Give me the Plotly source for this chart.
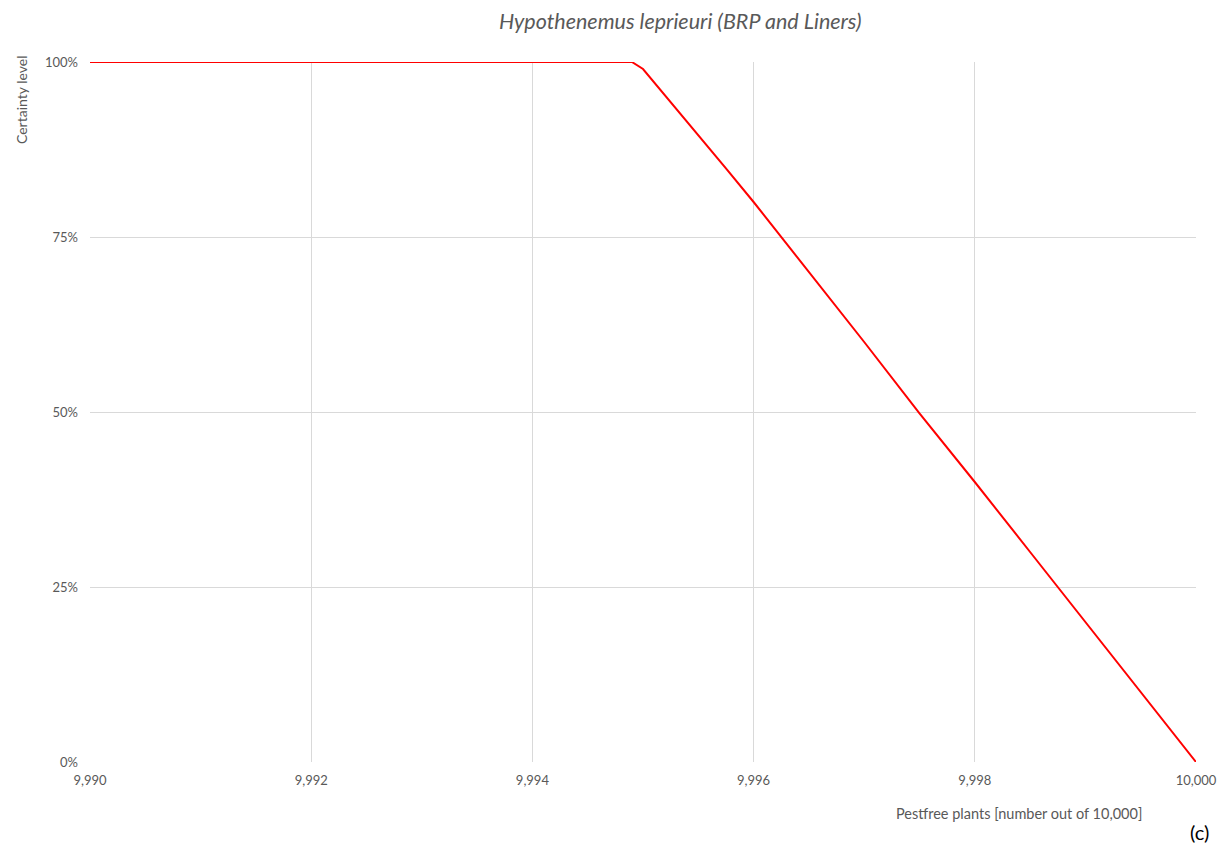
import plotly.graph_objects as go

# Data
pestfree_plants = [9990.0, 9994.9, 9995.0, 9995.25, 9995.5, 9995.75, 9996.0, 9996.5,
                   9997.0, 9997.5, 9998.0, 9998.5, 9999.0, 9999.5, 10000.0]
certainty = [1.00, 1.00, 0.99, 0.943, 0.896, 0.848, 0.80, 0.70,
             0.60, 0.498, 0.40, 0.30, 0.20, 0.10, 0.0]

x_ticks = [9990, 9992, 9994, 9996, 9998, 10000]
x_tick_labels = ["9,990", "9,992", "9,994", "9,996", "9,998", "10,000"]
y_ticks = [0, 0.25, 0.5, 0.75, 1.0]
y_tick_labels = ["0%", "25%", "50%", "75%", "100%"]

title_text = "Hypothenemus leprieuri (BRP and Liners)"
x_title = "Pestfree plants [number out of 10,000]"
y_title = "Certainty level"

FONT = "Lato, 'Open Sans', sans-serif"
GRID = "#d9d9d9"
TXT = "#595959"

# target coordinates are page pixels (body margin removed below)
PL, PR, PT, PB = 90, 1196, 62, 762
W, H = 1218, 845
PW, PH = PR - PL, PB - PT


def px(xp):
    return (xp - PL) / PW


def py(yp):
    return (PB - yp) / PH


fig = go.Figure()
fig.add_trace(go.Scatter(
    x=pestfree_plants, y=certainty, mode="lines",
    line=dict(color="#ff0000", width=2), hoverinfo="x+y", showlegend=False,
))

fig.update_layout(
    width=W, height=H,
    margin=dict(l=PL, r=W - PR, t=PT, b=H - PB, pad=0),
    paper_bgcolor="white", plot_bgcolor="white",
    font=dict(family=FONT, size=13, color=TXT),
    xaxis=dict(
        range=[9990, 10000], tickvals=x_ticks, ticktext=x_tick_labels,
        showgrid=True, gridcolor=GRID, gridwidth=1,
        zeroline=False, showline=False, ticks="", automargin=False,
        tickfont=dict(size=13, color=TXT, family=FONT),
        ticklabelstandoff=9, ticklabeloverflow="allow",
    ),
    yaxis=dict(
        range=[0, 1], tickvals=y_ticks, ticktext=y_tick_labels,
        showgrid=True, gridcolor=GRID, gridwidth=1,
        zeroline=False, showline=False, ticks="", automargin=False,
        tickfont=dict(size=13, color=TXT, family=FONT),
        ticklabelstandoff=11,
    ),
    annotations=[
        dict(text="<i>" + title_text + "</i>", xref="paper", yref="paper",
             x=px(680), y=py(21), xanchor="center", yanchor="middle",
             showarrow=False, font=dict(size=21.5, color=TXT, family=FONT)),
        dict(text=y_title, xref="paper", yref="paper", textangle=-90,
             x=px(22), y=py(100), xanchor="center", yanchor="middle",
             showarrow=False, font=dict(size=14, color=TXT, family=FONT)),
        dict(text=x_title, xref="paper", yref="paper",
             x=px(1019), y=py(813), xanchor="center", yanchor="middle",
             showarrow=False, font=dict(size=14.5, color=TXT, family=FONT)),
        dict(text="(c)", xref="paper", yref="paper",
             x=px(1199), y=py(832), xanchor="center", yanchor="middle",
             showarrow=False, font=dict(size=20, color="#000000", family=FONT)),
    ],
)

fig.write_html("out.html",
               config={"displayModeBar": False},
               post_script="document.body.style.margin='0px';"
                           "document.body.style.overflow='hidden';")
